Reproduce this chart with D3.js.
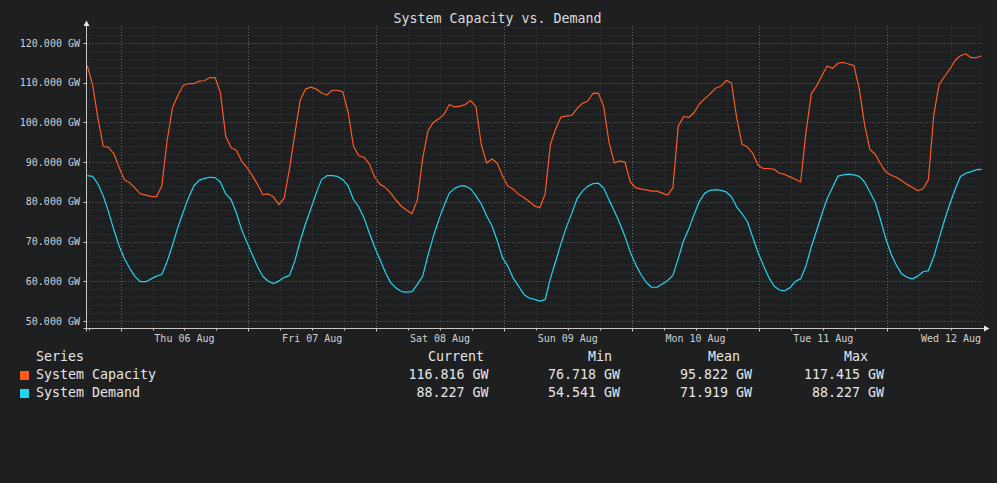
<!DOCTYPE html>
<html>
<head>
<meta charset="utf-8">
<script src="https://cdn.jsdelivr.net/npm/d3@7"></script>
<style>
  html, body { margin: 0; padding: 0; background: #1e1f21; }
  svg { display: block; }
  text { font-family: "DejaVu Sans Mono", monospace; }
</style>
</head>
<body>
<svg id="chart"></svg>
<script>
/* ---------- data (hourly samples, first at Wed 05 Aug 17:45 UTC) ---------- */
const seriesNames = ["System Capacity", "System Demand"];
const seriesColors = ["#ff5a1c", "#1ed6ef"];
const startTime = Date.UTC(2020, 7, 5, 17, 45);
const stepHours = 1;

const capacity = [
  114.3, 109.5, 101, 94, 93.7, 92.1, 88.6, 85.5, 84.8, 83.4, 82, 81.7, 81.4, 81.3, 84,
  95.5, 103.7, 106.8, 109.3, 109.75, 109.75, 110.4, 110.5, 111.3, 111.3, 107.5, 96.5, 93.7, 93, 90.2,
  88.6, 86.6, 84.3, 81.8, 82, 81.2, 79.3, 81, 88.5, 97.3, 105.6, 108.4, 108.9, 108.4, 107.4,
  106.9, 108.1, 108.1, 107.7, 102.5, 94, 91.6, 91.2, 89.5, 86.2, 84.4, 83.6, 82.2, 80.4, 78.9,
  77.9, 77.0, 80.5, 91, 97.9, 100, 100.9, 102, 104.5, 103.9, 104.1, 104.5, 105.5, 104, 94.5,
  89.8, 90.8, 89.7, 86.5, 84, 83.2, 81.9, 81.1, 80.1, 79, 78.5, 82, 94.5, 98.4, 101.4,
  101.6, 101.8, 103.5, 104.8, 105.4, 107.3, 107.4, 104, 95, 89.8, 90.3, 90, 85, 83.6, 83.2,
  83, 82.7, 82.7, 82.2, 81.7, 83.5, 99, 101.5, 101.25, 102.5, 104.7, 106, 107.2, 108.6, 109.1,
  110.6, 110, 101, 94.5, 93.8, 92.2, 89.2, 88.4, 88.4, 88.2, 87.2, 86.9, 86.3, 85.7, 85,
  97.5, 107.2, 109.2, 111.8, 114.2, 113.6, 114.9, 115.1, 114.7, 114.3, 108.5, 99.5, 93.2, 92, 89.6,
  87.5, 86.7, 86.2, 85.3, 84.4, 83.6, 82.8, 83.3, 85.6, 101.8, 109.6, 111.5, 113.4, 115.6, 116.8,
  117.3, 116.3, 116.3, 116.8
];

const demand = [
  86.6, 86.4, 84.5, 81.5, 77.4, 72.9, 68.8, 65.6, 63.2, 61.1, 59.9, 59.9, 60.6, 61.3, 61.7,
  65, 69.1, 73.5, 77.4, 81, 84, 85.4, 85.9, 86.2, 86.1, 85, 82, 80.6, 77.2, 73,
  69.8, 66.7, 63.6, 61.2, 60, 59.4, 60.1, 61, 61.5, 65.2, 70.2, 74.5, 78.3, 82.2, 85.6,
  86.6, 86.6, 86.4, 85.6, 84, 80.6, 78.7, 75.9, 72.1, 68.5, 65.4, 62.2, 59.6, 58.3, 57.4,
  57.25, 57.4, 59.2, 61.3, 66.6, 71.3, 75.4, 79, 82.2, 83.4, 84, 84, 83.3, 81.5, 79.5,
  76.5, 74, 70.2, 65.9, 63.8, 60.8, 58.8, 56.7, 55.8, 55.45, 55, 55.4, 60.8, 65.1, 69.6,
  73.7, 77.1, 80.8, 82.7, 83.9, 84.6, 84.7, 83.5, 80.5, 77.7, 74.7, 71.3, 67.3, 64.2, 61.7,
  59.7, 58.5, 58.5, 59.3, 60.2, 61.5, 65.7, 70.2, 73.2, 76.9, 80.2, 82.2, 82.9, 83.1, 82.9,
  82.5, 81.3, 78.7, 77, 75, 71.1, 67.2, 64, 61, 58.8, 57.8, 57.6, 58.4, 60, 60.6,
  63.9, 68.7, 72.8, 77, 80.9, 83.7, 86.5, 86.8, 87, 86.8, 86.4, 85, 82.5, 79.9, 75.5,
  70.7, 66.8, 64, 61.8, 61, 60.6, 61.3, 62.4, 62.7, 66.2, 70.8, 75.3, 79.4, 83.1, 86.4,
  87.2, 87.6, 88.1, 88.2
];

const yTickValues = [50, 60, 70, 80, 90, 100, 110, 120];
const legendColumns = ["Current", "Min", "Mean", "Max"];
const legendValues = [
  ["116.816 GW", "76.718 GW", "95.822 GW", "117.415 GW"],
  ["88.227 GW", "54.541 GW", "71.919 GW", "88.227 GW"]
];
const chartTitle = "System Capacity vs. Demand";

/* ---------- layout ---------- */
const W = 997, H = 483;
const plot = { left: 86.5, right: 983, top: 26, bottom: 328.5 };

const svg = d3.select("#chart").attr("width", W).attr("height", H);
svg.append("rect").attr("width", W).attr("height", H).attr("fill", "#1e1f21");

const xScale = d3.scaleUtc()
  .domain([new Date(Date.UTC(2020, 7, 5, 17, 36)), new Date(Date.UTC(2020, 7, 12, 18, 0))])
  .range([plot.left, plot.right]);
const yScale = d3.scaleLinear().domain([50, 120]).range([321, 43]);

/* ---------- grid ---------- */
const yMin = yScale.invert(plot.bottom), yMax = yScale.invert(plot.top);
const minorY = d3.range(Math.ceil(yMin / 2) * 2, yMax, 2).filter(v => v % 10 !== 0);
const minorX = d3.utcHour.every(6).range(...xScale.domain()).filter(d => d.getUTCHours() !== 0);
const majorX = d3.utcDay.range(...xScale.domain());

const grid = svg.append("g").attr("stroke-dasharray", "1,2").attr("stroke-width", 1);

grid.selectAll(".minor-y").data(minorY).join("line")
  .attr("x1", plot.left).attr("x2", plot.right)
  .attr("y1", d => Math.round(yScale(d)) + 0.5).attr("y2", d => Math.round(yScale(d)) + 0.5)
  .attr("stroke", "#393a3c");
grid.selectAll(".minor-x").data(minorX).join("line")
  .attr("x1", d => Math.round(xScale(d)) + 0.5).attr("x2", d => Math.round(xScale(d)) + 0.5)
  .attr("y1", plot.top).attr("y2", plot.bottom)
  .attr("stroke", "#393a3c");
grid.selectAll(".major-y").data(yTickValues).join("line")
  .attr("x1", plot.left).attr("x2", plot.right)
  .attr("y1", d => Math.round(yScale(d)) + 0.5).attr("y2", d => Math.round(yScale(d)) + 0.5)
  .attr("stroke", "#66676a");
grid.selectAll(".major-x").data(majorX).join("line")
  .attr("x1", d => Math.round(xScale(d)) + 0.5).attr("x2", d => Math.round(xScale(d)) + 0.5)
  .attr("y1", plot.top).attr("y2", plot.bottom)
  .attr("stroke", "#66676a");

/* ---------- series ---------- */
const timeAt = i => new Date(startTime + i * stepHours * 3600e3);
const lineGen = d3.line()
  .x((d, i) => xScale(timeAt(i)))
  .y(d => yScale(d));

[capacity, demand].forEach((values, k) => {
  svg.append("path")
    .datum(values)
    .attr("fill", "none")
    .attr("stroke", seriesColors[k])
    .attr("stroke-width", 1.2)
    .attr("stroke-linejoin", "round")
    .attr("d", lineGen);
});

/* ---------- axes ---------- */
const axisColor = "#c8c8c8";
svg.append("line")
  .attr("x1", plot.left).attr("x2", plot.left)
  .attr("y1", 24).attr("y2", plot.bottom + 3)
  .attr("stroke", axisColor);
svg.append("line")
  .attr("x1", plot.left - 3).attr("x2", 986)
  .attr("y1", plot.bottom).attr("y2", plot.bottom)
  .attr("stroke", axisColor);
svg.append("path")
  .attr("d", `M${plot.left},20.5 L${plot.left - 3},26 L${plot.left + 3},26 Z`)
  .attr("fill", "#e8e8e8");
svg.append("path")
  .attr("d", `M989.5,${plot.bottom} L984,${plot.bottom - 3} L984,${plot.bottom + 3} Z`)
  .attr("fill", "#e8e8e8");

svg.selectAll(".y-tick").data(yTickValues).join("line")
  .attr("x1", plot.left - 3).attr("x2", plot.left)
  .attr("y1", d => Math.round(yScale(d)) + 0.5).attr("y2", d => Math.round(yScale(d)) + 0.5)
  .attr("stroke", axisColor);
svg.selectAll(".x-tick").data(majorX.concat(minorX)).join("line")
  .attr("x1", d => Math.round(xScale(d)) + 0.5).attr("x2", d => Math.round(xScale(d)) + 0.5)
  .attr("y1", plot.bottom).attr("y2", d => plot.bottom + (d.getUTCHours() === 0 ? 3 : 2))
  .attr("stroke", axisColor);

svg.selectAll(".y-label").data(yTickValues).join("text")
  .attr("x", 80).attr("y", d => yScale(d) + 3.5)
  .attr("text-anchor", "end")
  .attr("font-size", 10).attr("fill", "#d0d0d0")
  .text(d => d3.format(".3f")(d) + " GW");

const fmtDay = d3.utcFormat("%a %d %b");
svg.selectAll(".x-label").data(majorX).join("text")
  .attr("x", d => xScale(d3.utcHour.offset(d, 12)))
  .attr("y", 341.5)
  .attr("text-anchor", "middle")
  .attr("font-size", 10).attr("fill", "#d0d0d0")
  .text(fmtDay);

svg.append("text")
  .attr("x", 497.5).attr("y", 23)
  .attr("text-anchor", "middle")
  .attr("font-size", 13.3).attr("fill", "#dcdcdc")
  .text(chartTitle);

/* ---------- legend ---------- */
const legend = svg.append("g").attr("font-size", 13.3).attr("fill", "#e6e6e6");
const headerCenters = [456, 600, 724, 856];
const valueRights = [488.5, 620, 752, 884];
const rowBaselines = [379, 397];

legend.append("text").attr("x", 36).attr("y", 361).text("Series");
legend.selectAll(".hdr").data(legendColumns).join("text")
  .attr("x", (d, i) => headerCenters[i]).attr("y", 361)
  .attr("text-anchor", "middle").text(d => d);

seriesNames.forEach((name, k) => {
  legend.append("rect")
    .attr("x", 20).attr("y", rowBaselines[k] - 8)
    .attr("width", 9).attr("height", 9)
    .attr("fill", seriesColors[k]);
  legend.append("text").attr("x", 36).attr("y", rowBaselines[k]).text(name);
  legend.selectAll(".val-" + k).data(legendValues[k]).join("text")
    .attr("x", (d, i) => valueRights[i]).attr("y", rowBaselines[k])
    .attr("text-anchor", "end").text(d => d);
});
</script>
</body>
</html>
